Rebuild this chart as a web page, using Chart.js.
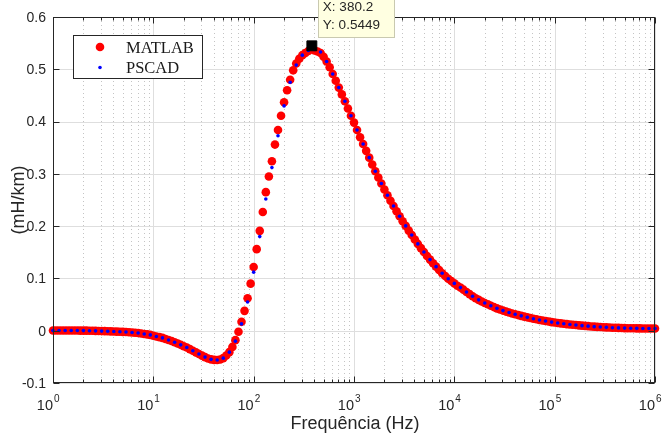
<!DOCTYPE html>
<html>
<head>
<meta charset="utf-8">
<script src="https://cdn.jsdelivr.net/npm/chart.js@4.4.1/dist/chart.umd.min.js"></script>
<style>
  html, body { margin: 0; padding: 0; background: #fff; }
  canvas { display: block; }
</style>
</head>
<body>
<canvas id="chart" width="666" height="433"></canvas>
<script>
// MATLAB series (Hz, mH/km)
const freqMatlab = [
  1, 1.072, 1.15, 1.233, 1.322, 1.418, 1.52, 1.63, 1.748, 1.874, 2.009, 2.154, 2.31, 2.477, 2.656, 2.848, 3.054,
  3.275, 3.511, 3.765, 4.037, 4.329, 4.642, 4.977, 5.337, 5.722, 6.136, 6.579, 7.055, 7.565, 8.111, 8.697, 9.326,
  10, 10.72, 11.5, 12.33, 13.22, 14.18, 15.2, 16.3, 17.48, 18.74, 20.09, 21.54, 23.1, 24.77, 26.56, 28.48, 30.54,
  32.75, 35.11, 37.65, 40.37, 43.29, 46.42, 49.77, 53.37, 57.22, 61.36, 65.79, 70.55, 75.65, 81.11, 86.97, 93.26,
  100, 107.2, 115, 123.3, 132.2, 141.8, 152, 163, 174.8, 187.4, 200.9, 215.4, 231, 247.7, 265.6, 284.8, 305.4,
  327.5, 351.1, 376.5, 403.7, 432.9, 464.2, 497.7, 533.7, 572.2, 613.6, 657.9, 705.5, 756.5, 811.1, 869.7, 932.6,
  1000, 1072, 1150, 1233, 1322, 1418, 1520, 1630, 1748, 1874, 2009, 2154, 2310, 2477, 2656, 2848, 3054,
  3275, 3511, 3765, 4037, 4329, 4642, 4977, 5337, 5722, 6136, 6579, 7055, 7565, 8111, 8697, 9326,
  10000, 10720, 11500, 12330, 13220, 14180, 15200, 16300, 17480, 18740, 20090, 21540, 23100, 24770, 26560, 28480, 30540,
  32750, 35110, 37650, 40370, 43290, 46420, 49770, 53370, 57220, 61360, 65790, 70550, 75650, 81110, 86970, 93260,
  100000, 107200, 115000, 123300, 132200, 141800, 152000, 163000, 174800, 187400, 200900, 215400, 231000, 247700, 265600, 284800, 305400,
  327500, 351100, 376500, 403700, 432900, 464200, 497700, 533700, 572200, 613600, 657900, 705500, 756500, 811100, 869700, 932600,
  1000000
];
const lMatlab = [
  0.0005, 0.0005, 0.0005, 0.0005, 0.0005, 0.0004, 0.0004, 0.0003, 0.0003, 0.0002, 0.0002, 0.0001, 0, -0.0001, -0.0003, -0.0005, -0.0007,
  -0.0008, -0.001, -0.0012, -0.0014, -0.0017, -0.002, -0.0023, -0.0026, -0.0029, -0.0033, -0.0038, -0.0045, -0.0052, -0.0062, -0.007, -0.008,
  -0.0095, -0.011, -0.0123, -0.0137, -0.0158, -0.0178, -0.0198, -0.022, -0.0245, -0.027, -0.0296, -0.0322, -0.0352, -0.0382, -0.0414, -0.0445, -0.0476,
  -0.0505, -0.053, -0.0548, -0.0558, -0.056, -0.055, -0.0525, -0.0475, -0.041, -0.031, -0.018, -0.002, 0.017, 0.038, 0.062, 0.09,
  0.122, 0.156, 0.191, 0.227, 0.265, 0.295, 0.324, 0.356, 0.384, 0.411, 0.437, 0.46, 0.48, 0.498, 0.511, 0.52, 0.527,
  0.531, 0.535, 0.5449, 0.536, 0.534, 0.531, 0.524, 0.515, 0.504, 0.491, 0.478, 0.465, 0.452, 0.439, 0.425, 0.411,
  0.398, 0.384, 0.37, 0.357, 0.344, 0.331, 0.318, 0.305, 0.293, 0.2815, 0.27, 0.259, 0.2485, 0.2385, 0.2285, 0.219, 0.2095,
  0.2005, 0.1915, 0.183, 0.1745, 0.166, 0.158, 0.1505, 0.143, 0.136, 0.129, 0.1225, 0.116, 0.11, 0.1045, 0.0995, 0.095,
  0.0905, 0.086, 0.0825, 0.0785, 0.074, 0.07, 0.066, 0.0622, 0.059, 0.056, 0.053, 0.0505, 0.0478, 0.0452, 0.0428, 0.0405, 0.0385,
  0.0366, 0.0348, 0.033, 0.0314, 0.0299, 0.0284, 0.027, 0.0256, 0.0243, 0.023, 0.0218, 0.0206, 0.0195, 0.0185, 0.0175, 0.0165,
  0.0156, 0.0148, 0.014, 0.0133, 0.0126, 0.012, 0.0114, 0.0108, 0.0102, 0.0097, 0.0092, 0.0087, 0.0082, 0.0078, 0.0074, 0.007, 0.0067,
  0.0064, 0.0061, 0.0058, 0.0056, 0.0054, 0.0052, 0.005, 0.0048, 0.0047, 0.0046, 0.0045, 0.0044, 0.0043, 0.0042, 0.0042, 0.0041,
  0.0041
];

// PSCAD series
const freqPscad = [
  1, 1.15, 1.322, 1.52, 1.748, 2.009, 2.31, 2.656, 3.054, 3.511, 4.037, 4.642, 5.337, 6.136, 7.055, 8.111, 9.326,
  10.72, 12.33, 14.18, 16.3, 18.74, 21.54, 24.77, 28.48, 32.75, 37.65, 43.29, 49.77, 57.22, 65.79, 75.65, 86.97,
  100, 115, 132.2, 152, 174.8, 200.9, 231, 265.6, 305.4, 351.1, 403.7, 464.2, 533.7, 613.6, 705.5, 811.1, 932.6,
  1072, 1233, 1418, 1630, 1874, 2154, 2477, 2848, 3275, 3765, 4329, 4977, 5722, 6579, 7565, 8697,
  10000, 11500, 13220, 15200, 17480, 20090, 23100, 26560, 30540, 35110, 40370, 46420, 53370, 61360, 70550, 81110, 93260,
  107200, 123300, 141800, 163000, 187400, 215400, 247700, 284800, 327500, 376500, 432900, 497700, 572200, 657900, 756500, 869700,
  1000000
];
const lPscad = [
  0.0005, 0.0005, 0.0005, 0.0004, 0.0003, 0.0002, 0, -0.0003, -0.0007, -0.001, -0.0014, -0.002, -0.0026, -0.0033, -0.0045, -0.0062, -0.008,
  -0.011, -0.0137, -0.0178, -0.022, -0.027, -0.0322, -0.0382, -0.0445, -0.0505, -0.0548, -0.056, -0.0525, -0.041, -0.02, 0.013, 0.055,
  0.112, 0.18, 0.252, 0.312, 0.373, 0.43, 0.475, 0.508, 0.527, 0.536, 0.538, 0.533, 0.515, 0.491, 0.465, 0.439, 0.411,
  0.384, 0.357, 0.331, 0.305, 0.2815, 0.259, 0.2385, 0.219, 0.2005, 0.183, 0.166, 0.1505, 0.136, 0.1225, 0.11, 0.0995,
  0.0905, 0.0825, 0.074, 0.066, 0.059, 0.053, 0.0478, 0.0428, 0.0385, 0.0348, 0.0314, 0.0284, 0.0256, 0.023, 0.0206, 0.0185, 0.0165,
  0.0148, 0.0133, 0.012, 0.0108, 0.0097, 0.0087, 0.0078, 0.007, 0.0064, 0.0058, 0.0054, 0.005, 0.0047, 0.0045, 0.0043, 0.0042,
  0.0041
];

const seriesNames = ["MATLAB", "PSCAD"];

// data tip
const tipX = [380.2];
const tipY = [0.5449];

// axes
const yTicks = [-0.1, 0, 0.1, 0.2, 0.3, 0.4, 0.5, 0.6];
const yTickLabels = ["-0.1", "0", "0.1", "0.2", "0.3", "0.4", "0.5", "0.6"];
const xDecades = [1, 10, 100, 1000, 10000, 100000, 1000000];
const xExponents = ["0", "1", "2", "3", "4", "5", "6"];
const xMinor = [2, 3, 4, 5, 6, 7, 8, 9];
const xTitle = "Frequência (Hz)";
const yTitle = "(mH/km)";

const SANS = '"Liberation Sans", Arial, sans-serif';
const SERIF = '"Liberation Serif", "Times New Roman", serif';
const AXIS = "#262626";

function seg(ctx, x1, y1, x2, y2) {
  ctx.beginPath();
  ctx.moveTo(x1, y1);
  ctx.lineTo(x2, y2);
  ctx.stroke();
}

const matlabAxes = {
  id: "matlabAxes",
  beforeDatasetsDraw(chart) {
    const { ctx, chartArea: a, scales: { x, y } } = chart;
    ctx.save();
    ctx.lineWidth = 1;

    // minor grid, dotted
    ctx.strokeStyle = "#c4c4c4";
    ctx.setLineDash([1, 3]);
    xDecades.slice(0, -1).forEach(d => {
      xMinor.forEach(m => {
        const px = Math.round(x.getPixelForValue(d * m)) + 0.5;
        seg(ctx, px, a.top, px, a.bottom);
      });
    });

    // major grid
    ctx.setLineDash([]);
    ctx.strokeStyle = "#dedede";
    xDecades.forEach(d => {
      const px = Math.round(x.getPixelForValue(d)) + 0.5;
      seg(ctx, px, a.top, px, a.bottom);
    });
    yTicks.forEach(v => {
      const py = Math.round(y.getPixelForValue(v)) + 0.5;
      seg(ctx, a.left, py, a.right, py);
    });
    ctx.restore();
  },
  afterDatasetsDraw(chart) {
    const { ctx, chartArea: a, scales: { x, y } } = chart;
    ctx.save();

    // box
    ctx.strokeStyle = AXIS;
    ctx.lineWidth = 1;
    const L = Math.round(a.left) + 0.5, R = Math.round(a.right) - 0.5;
    const T = Math.round(a.top) + 0.5, B = Math.round(a.bottom) - 0.5;
    ctx.strokeRect(L, T, R - L, B - T);

    // ticks (inward)
    yTicks.forEach(v => {
      const py = Math.round(y.getPixelForValue(v)) + 0.5;
      seg(ctx, L, py, L + 6, py);
      seg(ctx, R, py, R - 6, py);
    });
    xDecades.forEach(d => {
      const px = Math.round(x.getPixelForValue(d)) + 0.5;
      seg(ctx, px, B, px, B - 6);
      seg(ctx, px, T, px, T + 6);
      if (d < 1000000) {
        xMinor.forEach(m => {
          const qx = Math.round(x.getPixelForValue(d * m)) + 0.5;
          seg(ctx, qx, B, qx, B - 3);
          seg(ctx, qx, T, qx, T + 3);
        });
      }
    });

    // y tick labels
    ctx.fillStyle = AXIS;
    ctx.font = "14px " + SANS;
    ctx.textAlign = "right";
    ctx.textBaseline = "middle";
    yTicks.forEach((v, i) => {
      ctx.fillText(yTickLabels[i], a.left - 7, y.getPixelForValue(v) + 1);
    });

    // x tick labels 10^n
    xDecades.forEach((d, i) => {
      const px = x.getPixelForValue(d);
      ctx.font = "14.5px " + SANS;
      ctx.textAlign = "right";
      ctx.textBaseline = "alphabetic";
      ctx.fillText("10", px, a.bottom + 27);
      ctx.font = "10px " + SANS;
      ctx.textAlign = "left";
      ctx.fillText(xExponents[i], px + 1, a.bottom + 19);
    });

    // axis titles
    ctx.font = "18px " + SANS;
    ctx.textAlign = "center";
    ctx.textBaseline = "alphabetic";
    ctx.fillText(xTitle, (a.left + a.right) / 2 + 1, 429);
    ctx.save();
    ctx.translate(24, (a.top + a.bottom) / 2);
    ctx.rotate(-Math.PI / 2);
    ctx.fillText(yTitle, 0, 0);
    ctx.restore();

    // legend
    ctx.fillStyle = "#ffffff";
    ctx.fillRect(73.5, 35.5, 129, 43);
    ctx.strokeStyle = AXIS;
    ctx.strokeRect(73.5, 35.5, 129, 43);
    const ds = chart.data.datasets;
    [[ds[0], 47], [ds[1], 67.5]].forEach(([d, ly]) => {
      ctx.fillStyle = d.backgroundColor;
      ctx.beginPath();
      ctx.arc(100, ly, d.pointRadius, 0, Math.PI * 2);
      ctx.fill();
      ctx.fillStyle = "#1a1a1a";
      ctx.font = "16.5px " + SERIF;
      ctx.textAlign = "left";
      ctx.textBaseline = "middle";
      ctx.fillText(d.label, 126, ly + 1.5);
    });

    // data tip box
    const tx = x.getPixelForValue(tipX[0]);
    ctx.fillStyle = "#ffffe1";
    ctx.fillRect(318.5, -1, 76, 38.5);
    ctx.strokeStyle = "#c9c9b0";
    ctx.strokeRect(318.5, -1, 76, 38.5);
    ctx.fillStyle = "#262626";
    ctx.font = "13.5px " + SANS;
    ctx.textAlign = "left";
    ctx.textBaseline = "middle";
    ctx.fillText("X: " + tipX[0], tx + 11, 7);
    ctx.fillText("Y: " + tipY[0], tx + 11, 25.5);

    ctx.restore();
  }
};

const matlabPoints = freqMatlab.map((f, i) => ({ x: f, y: lMatlab[i] }));
const pscadPoints = freqPscad.map((f, i) => ({ x: f, y: lPscad[i] }));
const tipPoints = tipX.map((f, i) => ({ x: f, y: tipY[i] }));

new Chart(document.getElementById("chart"), {
  type: "scatter",
  data: {
    datasets: [
      {
        label: seriesNames[0],
        data: matlabPoints,
        backgroundColor: "#ff0000",
        borderWidth: 0,
        pointRadius: 4.3,
        clip: false,
        order: 3
      },
      {
        label: seriesNames[1],
        data: pscadPoints,
        backgroundColor: "#0000ff",
        borderWidth: 0,
        pointRadius: 1.8,
        clip: false,
        order: 2
      },
      {
        label: "tip",
        data: tipPoints,
        pointStyle: "rect",
        backgroundColor: "#000000",
        borderColor: "#000000",
        borderWidth: 1,
        pointRadius: 7,
        clip: false,
        order: 1
      }
    ]
  },
  options: {
    responsive: false,
    animation: false,
    devicePixelRatio: 1,
    layout: { padding: { left: 53, right: 11, top: 17, bottom: 50 } },
    plugins: {
      legend: { display: false },
      tooltip: { enabled: false }
    },
    scales: {
      x: {
        type: "logarithmic",
        min: 1,
        max: 1000000,
        display: false
      },
      y: {
        type: "linear",
        min: -0.1,
        max: 0.6,
        display: false
      }
    }
  },
  plugins: [matlabAxes]
});
</script>
</body>
</html>
